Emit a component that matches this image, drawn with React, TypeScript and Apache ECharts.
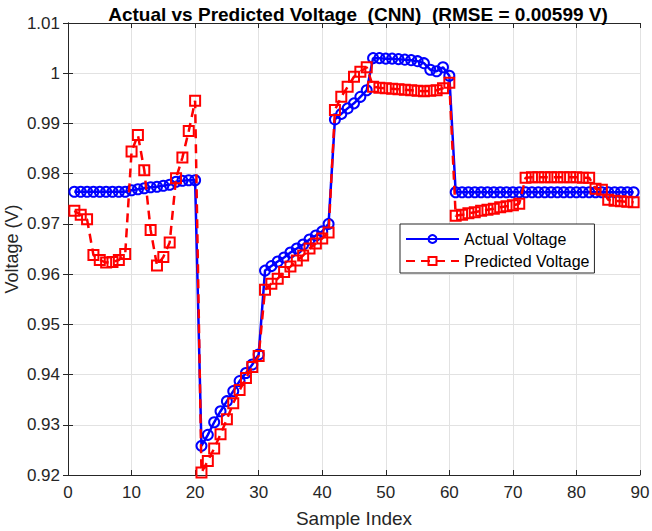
import React, { useEffect, useRef } from "react";
import * as echarts from "echarts";

// Measured bus voltage per sample (samples 1..89)
const actualVoltage: number[] = [
  0.9764, 0.9764, 0.9764, 0.9764, 0.9764, 0.9764, 0.9764, 0.9764, 0.9764,
  0.9767, 0.9769, 0.9771, 0.9773, 0.9774, 0.9776, 0.9778, 0.9784, 0.9786, 0.9787, 0.9787,
  0.9258, 0.928, 0.9305, 0.9327, 0.9347, 0.9367, 0.9387, 0.9403, 0.942, 0.944,
  0.9607, 0.9616, 0.9625, 0.9633, 0.9643, 0.9651, 0.9659, 0.9669, 0.9677, 0.9685, 0.97,
  0.9908, 0.9919, 0.993, 0.994, 0.9953, 0.9966,
  1.003, 1.003, 1.0029, 1.0029, 1.0028, 1.0027, 1.0026, 1.0024, 1.002, 1.0007, 1.0004, 1.0012, 0.9995,
  0.9763, 0.9763, 0.9763, 0.9763, 0.9763, 0.9763, 0.9763, 0.9763, 0.9763, 0.9763,
  0.9763, 0.9763, 0.9763, 0.9763, 0.9763, 0.9763, 0.9763, 0.9763, 0.9763, 0.9763,
  0.9763, 0.9763, 0.9763, 0.9763, 0.9763, 0.9763, 0.9763, 0.9763, 0.9763,
];

// CNN prediction per sample (samples 1..89)
const predictedVoltage: number[] = [
  0.9726, 0.9718, 0.9709, 0.9638, 0.9628, 0.9623, 0.9624, 0.9628, 0.964, 0.9844,
  0.9877, 0.9807, 0.9688, 0.9617, 0.9634, 0.9663, 0.9791, 0.9832, 0.9885, 0.9945,
  0.9205, 0.9228, 0.9253, 0.9281, 0.9311, 0.9343, 0.9369, 0.9393, 0.9415, 0.9437,
  0.9569, 0.9581, 0.9591, 0.9604, 0.9615, 0.9627, 0.9637, 0.9651, 0.9661, 0.9671, 0.9683,
  0.9927, 0.9953, 0.9973, 0.9993, 1.0003, 1.0012,
  0.9973, 0.9971, 0.997, 0.9969, 0.9968, 0.9967, 0.9966, 0.9965, 0.9964, 0.9965, 0.9966, 0.997, 0.9981,
  0.9716, 0.9718, 0.9721, 0.9723, 0.9726, 0.9728, 0.973, 0.9733, 0.9735, 0.9737, 0.974,
  0.9792, 0.9793, 0.9793, 0.9793, 0.9793, 0.9793, 0.9793, 0.9793, 0.9793, 0.9792, 0.9792,
  0.977, 0.9768, 0.9748, 0.9746, 0.9745, 0.9744, 0.9743,
];

const titleText = "Actual vs Predicted Voltage  (CNN)  (RMSE = 0.00599 V)";
const seriesNames = ["Actual Voltage", "Predicted Voltage"];
const xTicks = { min: 0, max: 90, step: 10 };
const yTicks = { min: 0.92, max: 1.01, step: 0.01 };

const FONT = "'Liberation Sans', Arial, Helvetica, sans-serif";
const AXIS_COLOR = "#262626";
const GRID_COLOR = "#e2e2e2";

const toPairs = (vals: number[]) => vals.map((v, i) => [i + 1, v]);

export default function App() {
  const ref = useRef<HTMLDivElement>(null);

  useEffect(() => {
    if (!ref.current) return;
    const chart = echarts.init(ref.current, undefined, { renderer: "svg" });

    const tickStyle = { show: true, inside: true, length: 5, lineStyle: { color: AXIS_COLOR, width: 1 } };
    const lineAxis = { show: true, lineStyle: { color: AXIS_COLOR, width: 1 } };

    chart.setOption({
      animation: false,
      backgroundColor: "#ffffff",
      title: {
        text: titleText,
        left: 353,
        textAlign: "center",
        top: 0,
        textStyle: { fontFamily: FONT, fontSize: 19, fontWeight: "bold", color: "#000" },
      },
      legend: {
        left: 400,
        top: 224,
        orient: "vertical",
        backgroundColor: "#ffffff",
        borderColor: AXIS_COLOR,
        borderWidth: 1,
        borderRadius: 0,
        padding: [6, 5, 3, 5],
        itemGap: 4,
        itemWidth: 53,
        itemHeight: 10,
        textStyle: { fontFamily: FONT, fontSize: 16, lineHeight: 18, color: "#000" },
        data: seriesNames,
      },
      grid: {
        left: 68,
        right: 12,
        top: 23,
        bottom: 56,
        containLabel: false,
        outerBoundsMode: "none",
      },
      xAxis: [
        {
          type: "value",
          min: xTicks.min,
          max: xTicks.max,
          interval: xTicks.step,
          position: "bottom",
          name: "Sample Index",
          nameLocation: "middle",
          nameGap: 34,
          nameMoveOverlap: false,
          nameTextStyle: { fontFamily: FONT, fontSize: 19, color: AXIS_COLOR },
          axisLine: lineAxis,
          axisTick: tickStyle,
          axisLabel: { fontFamily: FONT, fontSize: 17, color: AXIS_COLOR, margin: 9 },
          splitLine: { show: true, lineStyle: { color: GRID_COLOR, width: 1 } },
        },
        {
          type: "value",
          min: xTicks.min,
          max: xTicks.max,
          interval: xTicks.step,
          position: "top",
          axisLine: lineAxis,
          axisTick: tickStyle,
          axisLabel: { show: false },
          splitLine: { show: false },
        },
      ],
      yAxis: [
        {
          type: "value",
          min: yTicks.min,
          max: yTicks.max,
          interval: yTicks.step,
          position: "left",
          name: "Voltage (V)",
          nameLocation: "middle",
          nameGap: 47,
          nameMoveOverlap: false,
          nameTextStyle: { fontFamily: FONT, fontSize: 18, color: AXIS_COLOR },
          axisLine: lineAxis,
          axisTick: tickStyle,
          axisLabel: {
            fontFamily: FONT,
            fontSize: 17,
            color: AXIS_COLOR,
            margin: 8,
            formatter: (v: number) => String(Number(v.toFixed(2))),
          },
          splitLine: { show: true, lineStyle: { color: GRID_COLOR, width: 1 } },
        },
        {
          type: "value",
          min: yTicks.min,
          max: yTicks.max,
          interval: yTicks.step,
          position: "right",
          axisLine: lineAxis,
          axisTick: tickStyle,
          axisLabel: { show: false },
          splitLine: { show: false },
        },
      ],
      series: [
        {
          name: seriesNames[0],
          type: "line",
          xAxisIndex: 0,
          yAxisIndex: 0,
          data: toPairs(actualVoltage),
          symbol: "circle",
          symbolSize: 10,
          showAllSymbol: true,
          lineStyle: { color: "#0000ff", width: 2.5 },
          itemStyle: { color: "rgba(255,255,255,0)", borderColor: "#0000ff", borderWidth: 2 },
          z: 2,
        },
        {
          name: seriesNames[1],
          type: "line",
          xAxisIndex: 0,
          yAxisIndex: 0,
          data: toPairs(predictedVoltage),
          symbol: "rect",
          symbolSize: 10,
          showAllSymbol: true,
          lineStyle: { color: "#ff0000", width: 2.5, type: [9, 6] },
          itemStyle: { color: "rgba(255,255,255,0)", borderColor: "#ff0000", borderWidth: 2 },
          z: 3,
        },
      ],
    });

    return () => chart.dispose();
  }, []);

  return <div ref={ref} style={{ width: 652, height: 531, position: "absolute", left: 0, top: 0 }} />;
}
